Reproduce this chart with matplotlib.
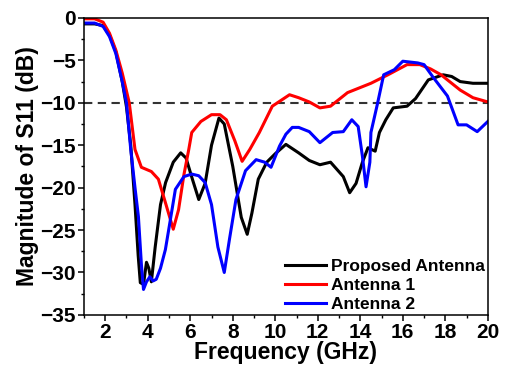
import matplotlib
matplotlib.use("Agg")
import matplotlib.pyplot as plt
from matplotlib.ticker import MultipleLocator

plt.rcParams['font.family'] = ['Liberation Sans', 'DejaVu Sans']
plt.rcParams['font.weight'] = 'bold'

# Proposed antenna
f_prop = [1.0, 1.5, 1.9, 2.2, 2.5, 2.8, 3.0, 3.2, 3.4, 3.55, 3.65, 3.8, 3.94, 4.05, 4.17,
          4.35, 4.6, 4.84, 5.2, 5.55, 5.8, 6.1, 6.4, 6.7, 7.0, 7.35, 7.6, 8.0, 8.4, 8.68,
          8.9, 9.2, 9.6, 10.0, 10.5, 11.1, 11.6, 12.1, 12.6, 13.2, 13.5, 13.8, 14.1, 14.36,
          14.7, 14.9, 15.2, 15.55, 16.2, 16.6, 17.2, 17.9, 18.3, 18.7, 19.3, 20.0]
s_prop = [-0.7, -0.7, -0.9, -2.0, -4.0, -7.5, -10.5, -15, -22, -28, -31.2, -31.4, -28.8, -29.5, -31.1,
          -27, -22, -19.4, -17, -15.9, -16.5, -19, -21.4, -19.5, -15, -11.8, -12.5, -17.5, -23.5, -25.5,
          -23, -19, -17, -16, -14.9, -15.9, -16.8, -17.3, -17, -18.7, -20.6, -19.5, -17, -15.3,
          -15.7, -13.5, -12, -10.6, -10.4, -9.5, -7.3, -6.7, -6.9, -7.5, -7.7, -7.7]

# Antenna 1
f_ant1 = [1.0, 1.5, 1.9, 2.2, 2.5, 2.8, 3.13, 3.4, 3.7, 4.17, 4.5, 4.8, 5.2, 5.45, 5.7, 5.93,
          6.07, 6.5, 7.0, 7.4, 7.7, 8.1, 8.44, 8.8, 9.25, 9.86, 10.67, 11.1, 11.6, 12.1, 12.6,
          13.0, 13.4, 14.0, 14.5, 15.3, 16.2, 16.8, 17.3, 17.8, 18.7, 19.3, 20.0]
s_ant1 = [-0.1, -0.1, -0.5, -1.8, -3.8, -6.5, -10, -15.5, -17.6, -18.1, -19, -21.5, -24.9, -22.6, -18.5, -15.5,
          -13.5, -12.2, -11.4, -11.4, -12, -14.5, -16.9, -15.5, -13.5, -10.4, -9.05, -9.4, -9.9, -10.6, -10.4,
          -9.6, -8.8, -8.2, -7.7, -6.7, -5.5, -5.5, -6.0, -6.7, -8.5, -9.4, -9.9]

# Antenna 2
f_ant2 = [1.0, 1.5, 1.9, 2.2, 2.5, 2.8, 3.0, 3.2, 3.4, 3.56, 3.7, 3.8, 3.94, 4.1, 4.25, 4.4,
          4.6, 4.83, 5.05, 5.3, 5.7, 6.07, 6.4, 6.7, 7.0, 7.3, 7.6, 7.85, 8.15, 8.6, 9.1,
          9.5, 9.8, 10.2, 10.5, 10.8, 11.1, 11.6, 12.1, 12.7, 13.2, 13.6, 13.9, 14.1, 14.27,
          14.45, 14.5, 14.8, 15.1, 15.6, 16.0, 16.7, 17.0, 17.4, 18.1, 18.6, 19.0, 19.5, 20.0]
s_ant2 = [-0.6, -0.6, -1.0, -2.2, -4.2, -7.5, -10, -15.5, -20, -23.4, -29, -32, -31.1, -30.5, -31, -30.8,
          -29.5, -27.3, -24, -20.2, -18.7, -18.4, -18.6, -19.4, -22, -27, -30, -26, -21.4, -18, -16.7,
          -17, -17.6, -15.1, -13.7, -12.9, -12.9, -13.4, -14.7, -13.5, -13.4, -12, -12.8, -16.3, -19.9,
          -17, -13.5, -10.2, -6.7, -6.1, -5.1, -5.3, -5.5, -6.9, -9.2, -12.6, -12.6, -13.4, -12.2]

fig = plt.figure(figsize=(5.05, 3.74), dpi=100)
ax = fig.add_axes([0.1663, 0.158, 0.7997, 0.794])

ax.axhline(-10, color='#333333', lw=1.5, ls=(0, (4, 2.6)))
ax.plot(f_prop, s_prop, color='black', lw=2.2, label='Proposed Antenna')
ax.plot(f_ant1, s_ant1, color='#ff0000', lw=2.2, label='Antenna 1')
ax.plot(f_ant2, s_ant2, color='#0000ff', lw=2.2, label='Antenna 2')

ax.set_xlim(1, 20)
ax.set_ylim(-35, 0)
ax.xaxis.set_major_locator(MultipleLocator(2))
ax.xaxis.set_minor_locator(MultipleLocator(1))
ax.yaxis.set_major_locator(MultipleLocator(5))
ax.yaxis.set_minor_locator(MultipleLocator(2.5))
ax.tick_params(which='major', direction='out', length=4, width=1.1, labelsize=15, pad=2)
ax.tick_params(which='minor', direction='out', length=2.5, width=1)
for sp in ax.spines.values():
    sp.set_linewidth(1.1)

ax.set_xlabel('Frequency (GHz)', fontsize=16.5, fontweight='bold', labelpad=-1)
ax.set_ylabel('Magnitude of S11 (dB)', fontsize=16.5, fontweight='bold', labelpad=1)

ax.legend(loc='lower right', frameon=False, fontsize=12.5, handlelength=2.35,
          handletextpad=0.3, labelspacing=0.22, borderaxespad=0.05, borderpad=0.1)

fig.savefig('out.png', dpi=100)
